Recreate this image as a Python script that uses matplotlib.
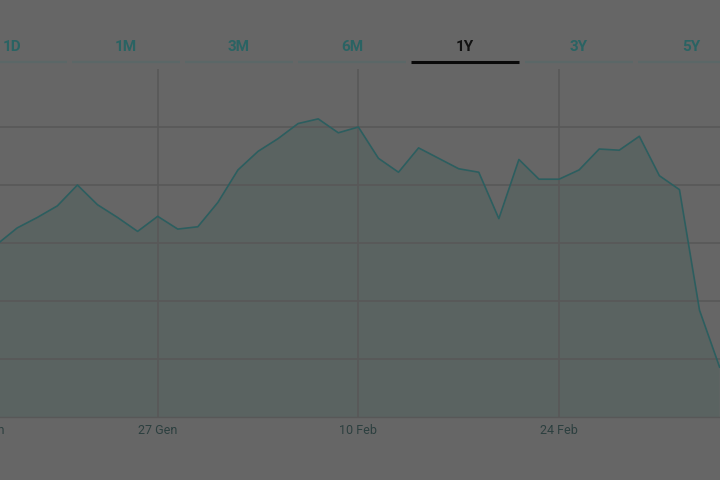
import matplotlib
matplotlib.use("Agg")
import matplotlib.pyplot as plt
import numpy as np
import pandas as pd

# Daily closes, trading days from 15 Jan 2025
dates = pd.bdate_range("2025-01-15", periods=37)
prices = [11.49, 11.63, 11.72, 11.82, 12.00, 11.83, 11.72, 11.60, 11.73, 11.62,
          11.64, 11.85, 12.13, 12.29, 12.40, 12.53, 12.57, 12.45, 12.50, 12.23,
          12.11, 12.32, 12.23, 12.14, 12.11, 11.71, 12.22, 12.05, 12.05, 12.13,
          12.31, 12.30, 12.42, 12.08, 11.96, 10.92, 10.43]

tab_labels = ["1D", "1M", "3M", "6M", "1Y", "3Y", "5Y"]
selected_tab = "1Y"

tick_positions = [-0.6, 8, 18, 28]
tick_labels = ["13 Gen", "27 Gen", "10 Feb", "24 Feb"]
y_gridlines = [10.5, 11.0, 11.5, 12.0, 12.5]

BG = "#666666"
FILL = "#5a6361"
LINE = "#2c5e5f"
GRID = "#585858"
TAB_TXT = "#2a6363"
TAB_LINE = "#5b6767"
TICK_TXT = "#2c3f3f"

W, H = 720, 480
fig = plt.figure(figsize=(W / 100, H / 100), dpi=100, facecolor=BG)

# ---- price area chart ----
ax = fig.add_axes([0, (H - 417) / H, 1, (417 - 69) / H])
ax.set_facecolor(BG)
x = np.arange(len(prices))
ax.fill_between(x, prices, 10.0, color=FILL, lw=0, zorder=1)
ax.plot(x, prices, color=LINE, lw=1.2, zorder=3, solid_joinstyle="round")

ax.set_yticks(y_gridlines)
ax.set_xticks(tick_positions)
ax.set_xticklabels(tick_labels, family="Roboto", fontsize=9, color=TICK_TXT)
ax.set_xlim(0.1425, 36.02)
ax.set_ylim(10.0, 13.0)
ax.tick_params(axis="x", length=0, pad=5)
ax.tick_params(axis="y", length=0, labelleft=False)
ax.grid(True, color=GRID, lw=1.2, zorder=2)
for s in ("top", "left", "right"):
    ax.spines[s].set_visible(False)
ax.spines["bottom"].set_color(GRID)
ax.spines["bottom"].set_linestyle((0, (1, 1)))
ax.spines["bottom"].set_linewidth(1.0)

# date labels whose tick lies just left of the visible window stay partly visible
xmin = ax.get_xlim()[0]
for pos, lab in zip(tick_positions, tick_labels):
    if pos < xmin:
        ax.annotate(lab, xy=(pos, 0), xycoords=("data", "axes fraction"),
                    xytext=(0, -5), textcoords="offset points",
                    ha="center", va="top", family="Roboto", fontsize=9,
                    color=TICK_TXT, annotation_clip=False)

# ---- period selector tabs ----
tab_ax = fig.add_axes([0, (H - 70) / H, 1, 70 / H])
tab_ax.set_xlim(0, W)
tab_ax.set_ylim(70, 0)
tab_ax.axis("off")
tab_ax.set_facecolor("none")
for k, lab in enumerate(tab_labels):
    cx = 12.5 + 113.2 * k
    sel = lab == selected_tab
    tab_ax.plot([cx - 54, cx + 54], [62, 62],
                color="#0a0a0a" if sel else TAB_LINE,
                lw=2.2 if sel else 1.6, solid_capstyle="butt")
    tab_ax.text(cx, 50.7, lab, ha="center", va="baseline", family="Roboto",
                fontsize=11, fontweight="bold",
                color="#111111" if sel else TAB_TXT)

fig.savefig("out.png", dpi=100, facecolor=BG)
